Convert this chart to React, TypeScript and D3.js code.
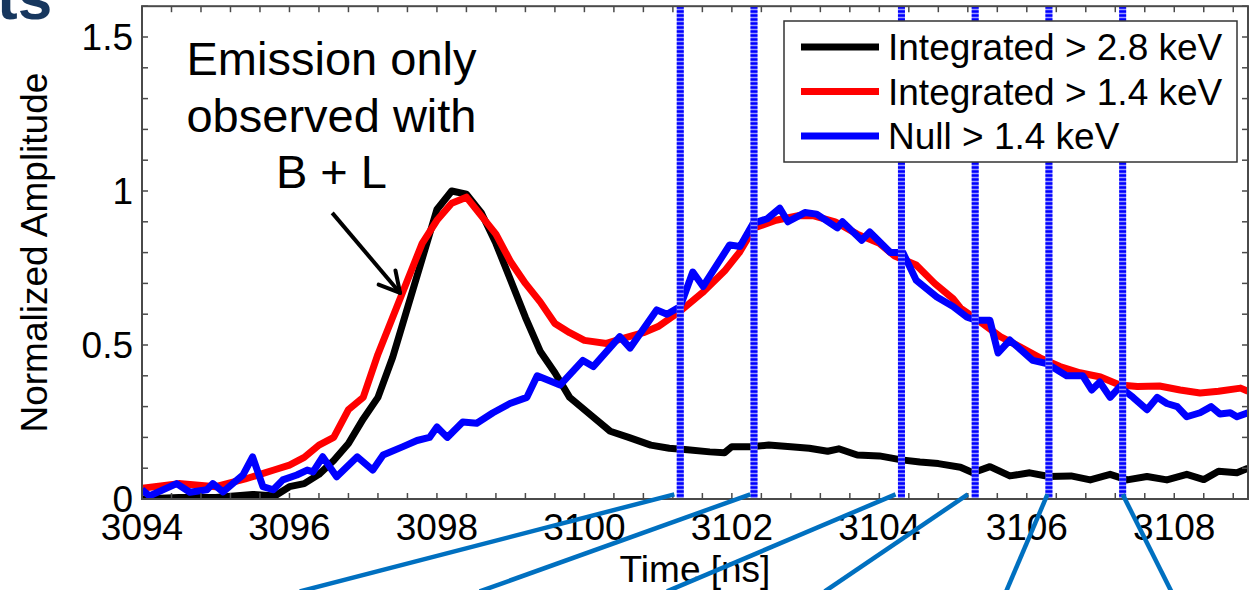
import React, { useEffect, useRef } from "react";
import * as d3 from "d3";

// Integrated > 2.8 keV (black)
const blackTime = [3094.0, 3094.5, 3095.0, 3095.5, 3095.8, 3096.0, 3096.2, 3096.4, 3096.6, 3096.8, 3097.0, 3097.2, 3097.4, 3097.6, 3097.8, 3098.0, 3098.2, 3098.4, 3098.6, 3098.8, 3099.0, 3099.2, 3099.4, 3099.6, 3099.8, 3100.1, 3100.35, 3100.6, 3100.9, 3101.15, 3101.4, 3101.7, 3101.9, 3102.0, 3102.25, 3102.5, 3102.8, 3103.05, 3103.3, 3103.45, 3103.7, 3104.0, 3104.3, 3104.55, 3104.8, 3105.1, 3105.27, 3105.5, 3105.77, 3106.04, 3106.3, 3106.6, 3106.86, 3107.13, 3107.36, 3107.63, 3107.9, 3108.17, 3108.4, 3108.6, 3108.85, 3109.0];
const blackAmp = [0.0, 0.005, 0.005, 0.015, 0.01, 0.04, 0.05, 0.08, 0.125, 0.18, 0.26, 0.33, 0.46, 0.62, 0.78, 0.94, 1.0, 0.99, 0.93, 0.83, 0.71, 0.59, 0.48, 0.41, 0.33, 0.27, 0.22, 0.2, 0.175, 0.165, 0.16, 0.153, 0.15, 0.17, 0.17, 0.175, 0.17, 0.165, 0.155, 0.163, 0.143, 0.14, 0.127, 0.12, 0.115, 0.103, 0.085, 0.105, 0.075, 0.085, 0.073, 0.075, 0.062, 0.08, 0.062, 0.073, 0.062, 0.08, 0.063, 0.09, 0.085, 0.1];

// Integrated > 1.4 keV (red)
const redTime = [3094.0, 3094.5, 3095.0, 3095.4, 3095.6, 3095.8, 3096.0, 3096.2, 3096.4, 3096.6, 3096.8, 3097.0, 3097.2, 3097.4, 3097.6, 3097.8, 3098.0, 3098.2, 3098.4, 3098.6, 3098.8, 3099.0, 3099.2, 3099.4, 3099.6, 3099.8, 3100.0, 3100.3, 3100.5, 3100.8, 3101.0, 3101.3, 3101.6, 3101.9, 3102.1, 3102.3, 3102.6, 3102.9, 3103.1, 3103.4, 3103.7, 3104.0, 3104.2, 3104.5, 3104.75, 3105.0, 3105.1, 3105.37, 3105.64, 3105.9, 3106.18, 3106.45, 3106.72, 3107.0, 3107.26, 3107.5, 3107.8, 3108.08, 3108.35, 3108.6, 3108.9, 3109.0];
const redAmp = [0.035, 0.05, 0.04, 0.065, 0.08, 0.095, 0.11, 0.135, 0.175, 0.2, 0.29, 0.33, 0.47, 0.59, 0.71, 0.83, 0.905, 0.96, 0.98, 0.92, 0.86, 0.77, 0.7, 0.64, 0.57, 0.54, 0.515, 0.505, 0.52, 0.54, 0.56, 0.61, 0.67, 0.74, 0.8, 0.88, 0.905, 0.92, 0.92, 0.9, 0.86, 0.83, 0.79, 0.76, 0.7, 0.65, 0.62, 0.575, 0.527, 0.495, 0.458, 0.43, 0.41, 0.396, 0.37, 0.365, 0.367, 0.354, 0.344, 0.35, 0.36, 0.35];

// Null > 1.4 keV (blue)
const blueTime = [3094.0, 3094.1, 3094.47, 3094.65, 3094.88, 3094.96, 3095.1, 3095.29, 3095.37, 3095.5, 3095.64, 3095.78, 3095.91, 3096.1, 3096.24, 3096.32, 3096.45, 3096.64, 3096.92, 3097.13, 3097.27, 3097.54, 3097.73, 3097.9, 3098.0, 3098.14, 3098.35, 3098.54, 3098.76, 3098.99, 3099.22, 3099.36, 3099.67, 3099.98, 3100.12, 3100.48, 3100.62, 3100.98, 3101.12, 3101.3, 3101.47, 3101.61, 3101.97, 3102.11, 3102.29, 3102.48, 3102.65, 3102.76, 3102.99, 3103.15, 3103.43, 3103.5, 3103.76, 3103.87, 3104.15, 3104.32, 3104.5, 3104.78, 3105.0, 3105.19, 3105.32, 3105.5, 3105.61, 3105.77, 3106.08, 3106.27, 3106.54, 3106.76, 3106.88, 3106.99, 3107.13, 3107.26, 3107.44, 3107.63, 3107.77, 3107.9, 3108.04, 3108.17, 3108.35, 3108.5, 3108.62, 3108.76, 3108.85, 3109.0];
const blueAmp = [0.03, 0.01, 0.05, 0.022, 0.03, 0.05, 0.023, 0.062, 0.078, 0.137, 0.04, 0.03, 0.062, 0.078, 0.094, 0.088, 0.137, 0.072, 0.137, 0.094, 0.143, 0.17, 0.19, 0.2, 0.234, 0.2, 0.25, 0.246, 0.28, 0.31, 0.33, 0.4, 0.37, 0.45, 0.43, 0.527, 0.49, 0.614, 0.6, 0.625, 0.737, 0.69, 0.825, 0.82, 0.895, 0.91, 0.944, 0.9, 0.93, 0.925, 0.88, 0.9, 0.84, 0.867, 0.8, 0.8, 0.71, 0.656, 0.625, 0.59, 0.58, 0.58, 0.474, 0.516, 0.45, 0.44, 0.4, 0.4, 0.354, 0.38, 0.33, 0.364, 0.33, 0.29, 0.33, 0.31, 0.3, 0.267, 0.28, 0.3, 0.276, 0.28, 0.267, 0.28];

const seriesNames = ["Integrated > 2.8 keV", "Integrated > 1.4 keV", "Null > 1.4 keV"];
const seriesColors = ["#000000", "#ff0000", "#0000ff"];

// dotted marker times and where their callout lines leave the picture
const markerTimes = [3101.3, 3102.3, 3104.3, 3105.3, 3106.3, 3107.3];
const calloutStart = [3101.22, 3102.25, 3104.22, 3105.2, 3106.28, 3107.3];
const calloutEnd = [3096.14, 3098.58, 3101.12, 3103.26, 3105.72, 3107.96];

const xTickLabels = [3094, 3096, 3098, 3100, 3102, 3104, 3106, 3108];
const yTickLabels = [0, 0.5, 1, 1.5];
const noteLines = ["Emission only", "observed with", "B + L"];

const FONT = "'Liberation Sans', Arial, sans-serif";

function App() {
  const ref = useRef(null);

  useEffect(() => {
    document.body.style.margin = "0";
    const svg = d3.select(ref.current);
    svg.selectAll("*").remove();

    const left = 142, right = 1248, top = 6.2, bottom = 499;
    const x = d3.scaleLinear().domain([3094, 3109]).range([left, right]);
    const y = d3.scaleLinear().domain([0, 1.6]).range([bottom, top]);

    svg.append("rect").attr("width", 1256).attr("height", 590).attr("fill", "#fff");

    // slide title remnant
    svg.append("text")
      .attr("x", -3).attr("y", 19)
      .attr("font-family", FONT).attr("font-weight", "bold")
      .attr("font-size", 62).attr("fill", "#17375e")
      .text("ts");

    svg.append("clipPath").attr("id", "plotclip")
      .append("rect").attr("x", left).attr("y", top)
      .attr("width", right - left).attr("height", bottom - top);

    const plot = svg.append("g").attr("clip-path", "url(#plotclip)");

    const series = [
      { t: blackTime, v: blackAmp },
      { t: redTime, v: redAmp },
      { t: blueTime, v: blueAmp }
    ];
    const line = d3.line().x((d) => x(d[0])).y((d) => y(d[1]));
    series.forEach((s, i) => {
      const pts = s.t.map((t, k) => [t, s.v[k]]);
      plot.append("path")
        .attr("d", line(pts))
        .attr("fill", "none")
        .attr("stroke", seriesColors[i])
        .attr("stroke-width", 7)
        .attr("stroke-linejoin", "round");
    });

    // dotted vertical markers
    markerTimes.forEach((t) => {
      plot.append("line")
        .attr("x1", x(t)).attr("x2", x(t)).attr("y1", top).attr("y2", bottom)
        .attr("stroke", "#9a9aff").attr("stroke-width", 7);
      plot.append("line")
        .attr("x1", x(t)).attr("x2", x(t)).attr("y1", top).attr("y2", bottom)
        .attr("stroke", "#0000ff").attr("stroke-width", 7)
        .attr("stroke-dasharray", "2.5,1.5");
    });

    // axes box + ticks
    const axisColor = "#4a4a4a";
    svg.append("rect")
      .attr("x", left).attr("y", top).attr("width", right - left).attr("height", bottom - top)
      .attr("fill", "none").attr("stroke", axisColor).attr("stroke-width", 2);

    const xTicks = d3.range(0, 38).map((k) => 3094 + k * 0.4);
    xTicks.forEach((t) => {
      [[bottom, bottom - 6], [top, top + 6]].forEach(([a, b]) => {
        svg.append("line").attr("x1", x(t)).attr("x2", x(t)).attr("y1", a).attr("y2", b)
          .attr("stroke", axisColor).attr("stroke-width", 1.5);
      });
    });
    const yTicks = d3.range(0, 17).map((k) => k * 0.1);
    yTicks.forEach((v) => {
      [[left, left + 6], [right, right - 6]].forEach(([a, b]) => {
        svg.append("line").attr("y1", y(v)).attr("y2", y(v)).attr("x1", a).attr("x2", b)
          .attr("stroke", axisColor).attr("stroke-width", 1.5);
      });
    });

    svg.selectAll("text.xl").data(xTickLabels).enter().append("text")
      .attr("class", "xl")
      .attr("x", (d) => x(d)).attr("y", 540)
      .attr("text-anchor", "middle")
      .attr("font-family", FONT).attr("font-size", 37)
      .text((d) => d);

    svg.selectAll("text.yl").data(yTickLabels).enter().append("text")
      .attr("class", "yl")
      .attr("x", 133).attr("y", (d) => y(d) + 13)
      .attr("text-anchor", "end")
      .attr("font-family", FONT).attr("font-size", 37)
      .text((d) => d);

    svg.append("text")
      .attr("transform", `translate(47,${(top + bottom) / 2}) rotate(-90)`)
      .attr("text-anchor", "middle")
      .attr("font-family", FONT).attr("font-size", 37)
      .text("Normalized Amplitude");

    svg.append("text")
      .attr("x", (left + right) / 2).attr("y", 582)
      .attr("text-anchor", "middle")
      .attr("font-family", FONT).attr("font-size", 37)
      .text("Time [ns]");

    // annotation
    const note = svg.append("text")
      .attr("font-family", FONT).attr("font-size", 47)
      .attr("text-anchor", "middle");
    noteLines.forEach((s, i) => {
      note.append("tspan").attr("x", x(3096.57)).attr("y", 75 + i * 56.5).text(s);
    });

    const ax0 = x(3096.58), ay0 = y(0.929), ax1 = x(3097.5), ay1 = y(0.669);
    svg.append("line").attr("x1", ax0).attr("y1", ay0).attr("x2", ax1).attr("y2", ay1)
      .attr("stroke", "#000").attr("stroke-width", 4);
    const ang = Math.atan2(ay1 - ay0, ax1 - ax0);
    [0.5, -0.5].forEach((da) => {
      svg.append("line")
        .attr("x1", ax1).attr("y1", ay1)
        .attr("x2", ax1 - 23 * Math.cos(ang + da)).attr("y2", ay1 - 23 * Math.sin(ang + da))
        .attr("stroke", "#000").attr("stroke-width", 4).attr("stroke-linecap", "round");
    });

    // legend
    const lg = svg.append("g");
    lg.append("rect").attr("x", 784).attr("y", 21).attr("width", 453).attr("height", 141)
      .attr("fill", "#fff").attr("stroke", "#333").attr("stroke-width", 1.5);
    seriesNames.forEach((name, i) => {
      const ly = 47 + i * 44.5;
      lg.append("line").attr("x1", 801).attr("x2", 879).attr("y1", ly).attr("y2", ly)
        .attr("stroke", seriesColors[i]).attr("stroke-width", 7);
      lg.append("text").attr("x", 888).attr("y", ly + 13)
        .attr("font-family", FONT).attr("font-size", 37)
        .text(name);
    });

    // callout lines running off the bottom
    calloutStart.forEach((t, i) => {
      svg.append("line")
        .attr("x1", x(t)).attr("y1", y(0.015))
        .attr("x2", x(calloutEnd[i])).attr("y2", y(-0.3))
        .attr("stroke", "#0070c0").attr("stroke-width", 4.5);
    });
  }, []);

  return (
    <svg ref={ref} width={1256} height={590}
      style={{ position: "absolute", left: 0, top: 0, display: "block" }} />
  );
}

export default App;
